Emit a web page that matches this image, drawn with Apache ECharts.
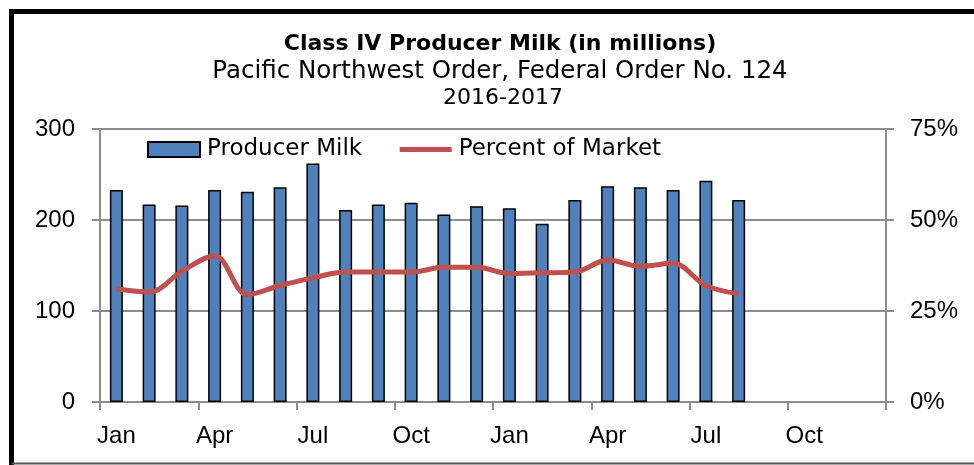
<!DOCTYPE html>
<html>
<head>
<meta charset="utf-8">
<script src="https://cdn.jsdelivr.net/npm/echarts@6/dist/echarts.min.js"></script>
<style>
html,body{margin:0;padding:0;background:#fff;}
#chart{width:974px;height:465px;}
</style>
</head>
<body>
<div id="chart"></div>
<script>
// Categories: Jan 2016 .. Dec 2017
const months = ['Jan','Feb','Mar','Apr','May','Jun','Jul','Aug','Sep','Oct','Nov','Dec',
                'Jan','Feb','Mar','Apr','May','Jun','Jul','Aug','Sep','Oct','Nov','Dec'];
// Producer milk (millions of lbs)
const producerMilk = [233, 217, 216, 233, 231, 236, 262, 211, 217, 219, 206, 215,
                      213, 196, 222, 237, 236, 233, 243, 222, null, null, null, null];
// Percent of market (%)
const percentOfMarket = [31.1, 30.2, 35.9, 40.2, 29.5, 32.0, 34.1, 35.7, 35.7, 35.7, 37.0, 37.0,
                         35.3, 35.5, 35.7, 39.0, 37.3, 38.1, 32.0, 29.7, null, null, null, null];
const leftTicks = [0, 100, 200, 300];
const rightTicks = [0, 25, 50, 75];

const chart = echarts.init(document.getElementById('chart'), null, {renderer: 'canvas'});
const GRAY = '#8c8c8c';
const AXIS_FONT = {fontFamily: 'Liberation Sans', fontSize: 24, color: '#000'};

chart.setOption({
  animation: false,
  backgroundColor: '#fff',
  title: [
    {text: 'Class IV Producer Milk (in millions)', left: 500, top: 33, textAlign: 'center', padding: 0,
     textStyle: {fontFamily: 'DejaVu Sans', fontWeight: 'bold', fontSize: 22, color: '#000'}},
    {text: 'Pacific Northwest Order, Federal Order No. 124', left: 500, top: 59, textAlign: 'center', padding: 0,
     textStyle: {fontFamily: 'DejaVu Sans', fontWeight: 'normal', fontSize: 24.5, color: '#000'}},
    {text: '2016-2017', left: 503, top: 87, textAlign: 'center', padding: 0,
     textStyle: {fontFamily: 'DejaVu Sans', fontWeight: 'normal', fontSize: 22, color: '#000'}}
  ],
  legend: {
    left: 147, top: 138, padding: 0, itemGap: 35, itemWidth: 52, itemHeight: 15,
    textStyle: {fontFamily: 'DejaVu Sans', fontSize: 23, color: '#000', padding: [0,0,0,2]},
    data: [
      {name: 'Producer Milk', icon: 'rect'},
      {name: 'Percent of Market', itemStyle: {opacity: 0}, lineStyle: {width: 5, color: '#C0504D'}}
    ]
  },
  grid: {left: 100, right: 88, top: 129, bottom: 63, containLabel: false},
  xAxis: {
    type: 'category', data: months, boundaryGap: true,
    axisLine: {lineStyle: {color: GRAY, width: 2}},
    axisTick: {show: true, interval: 2, length: 8, lineStyle: {color: GRAY, width: 2}},
    axisLabel: Object.assign({interval: 2, margin: 22}, AXIS_FONT)
  },
  yAxis: [
    {type: 'value', min: leftTicks[0], max: leftTicks[leftTicks.length-1], interval: 100, position: 'left',
     axisLine: {show: true, lineStyle: {color: GRAY, width: 2}},
     axisTick: {show: true, length: 8, lineStyle: {color: GRAY, width: 2}},
     splitLine: {show: true, lineStyle: {color: GRAY, width: 2}},
     axisLabel: Object.assign({margin: 25}, AXIS_FONT)},
    {type: 'value', min: rightTicks[0], max: rightTicks[rightTicks.length-1], interval: 25, position: 'right',
     axisLine: {show: true, lineStyle: {color: GRAY, width: 2}},
     axisTick: {show: true, length: 8, lineStyle: {color: GRAY, width: 2}},
     splitLine: {show: false},
     axisLabel: Object.assign({margin: 24, formatter: '{value}%'}, AXIS_FONT)}
  ],
  series: [
    {name: 'Producer Milk', type: 'bar', yAxisIndex: 0, data: producerMilk, barWidth: 13,
     itemStyle: {color: '#4F81BD', borderColor: '#000', borderWidth: 1.5}},
    {name: 'Percent of Market', type: 'line', yAxisIndex: 1, data: percentOfMarket,
     smooth: 0.35, symbol: 'none', lineStyle: {color: '#C0504D', width: 5}, itemStyle: {color: '#C0504D'}}
  ],
  graphic: [
    {type: 'line', shape: {x1: 11.5, y1: 11.5, x2: 974, y2: 11.5}, style: {stroke: '#000', lineWidth: 5}},
    {type: 'line', shape: {x1: 11.5, y1: 9, x2: 11.5, y2: 465}, style: {stroke: '#000', lineWidth: 5}},
    {type: 'line', shape: {x1: 11.5, y1: 463.5, x2: 974, y2: 463.5}, style: {stroke: '#555', lineWidth: 2}}
  ]
});
</script>
</body>
</html>
